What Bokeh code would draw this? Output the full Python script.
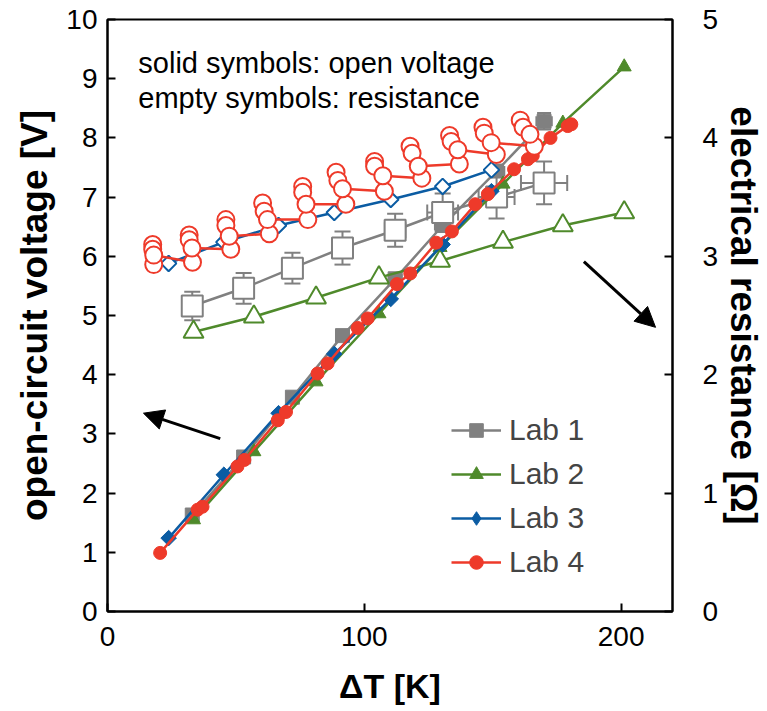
from bokeh.plotting import figure
from bokeh.models import (Range1d, LinearAxis, FixedTicker, Whisker, TeeHead, ColumnDataSource,
                          Legend, LegendItem, Label, Arrow, NormalHead)
from bokeh.embed import file_html
from bokeh.resources import INLINE
import math

# ---------------- data ----------------
lab1_dT = [33.0, 53.0, 72.0, 91.5, 112.0, 130.5, 151.5, 170.0]
lab1_V = [1.63, 2.61, 3.62, 4.66, 5.62, 6.52, 7.44, 8.28]
lab1_V_xerr = [0.5, 1.0, 1.5, 2.0, 2.5, 3.0, 3.0, 3.0]
lab1_V_yerr = [0.0, 0.0, 0.0, 0.0, 0.05, 0.08, 0.10, 0.14]
lab1_R = [2.58, 2.73, 2.90, 3.07, 3.22, 3.37, 3.50, 3.62]
lab1_R_xerr = [1.0, 1.5, 2.0, 3.0, 4.0, 6.0, 7.0, 9.0]
lab1_R_yerr = [0.12, 0.13, 0.13, 0.14, 0.14, 0.16, 0.18, 0.18]

lab2_dT = [33.5, 57.0, 81.2, 105.7, 129.5, 154.0, 177.3, 201.2]
lab2_V = [1.55, 2.70, 3.88, 5.03, 6.15, 7.22, 8.25, 9.20]
lab2_R = [2.36, 2.49, 2.65, 2.82, 2.96, 3.12, 3.26, 3.37]

lab3_dT = [23.8, 45.3, 66.6, 88.3, 110.3, 130.5, 149.5]
lab3_V = [1.24, 2.31, 3.35, 4.35, 5.28, 6.20, 7.10]
lab3_R = [2.94, 3.12, 3.26, 3.37, 3.48, 3.59, 3.73]

lab4_V_dT = [20.5, 35.1, 37.0, 50.6, 53.3, 66.3, 69.5, 81.8, 85.7, 97.4, 101.3, 112.7,
             117.9, 128.0, 134.1, 143.2, 148.1, 158.3, 163.7, 165.6, 172.5, 179.2, 180.6]
lab4_V = [0.99, 1.72, 1.77, 2.45, 2.56, 3.23, 3.37, 4.02, 4.19, 4.79, 4.95, 5.53,
          5.71, 6.23, 6.42, 6.88, 7.05, 7.47, 7.64, 7.70, 8.00, 8.20, 8.23]
lab4_R_dT = [18.0, 17.6, 17.6, 18.0, 33.1, 31.8, 31.8, 32.9, 48.0, 46.1, 46.1, 47.4,
             63.0, 60.4, 61.0, 62.3, 78.0, 76.0, 76.0, 77.3, 92.8, 89.0, 89.7, 91.5,
             107.8, 104.0, 104.0, 107.2, 122.4, 117.8, 118.6, 121.0, 137.0, 133.2, 133.8, 136.4,
             151.4, 146.2, 146.7, 149.4, 166.2, 160.7, 161.8, 164.5]
lab4_R = [2.93, 3.10, 3.06, 3.01, 2.95, 3.18, 3.14, 3.07, 3.06, 3.31, 3.26, 3.17,
          3.19, 3.45, 3.38, 3.31, 3.31, 3.59, 3.54, 3.44, 3.44, 3.71, 3.64, 3.57,
          3.55, 3.80, 3.76, 3.68, 3.66, 3.93, 3.87, 3.76, 3.78, 4.02, 3.97, 3.90,
          3.86, 4.09, 4.04, 3.96, 3.93, 4.15, 4.09, 4.03]

x_ticks = [0, 100, 200]
yV_ticks = [0, 1, 2, 3, 4, 5, 6, 7, 8, 9, 10]
yR_ticks = [0, 1, 2, 3, 4, 5]
labels = ["Lab 1", "Lab 2", "Lab 3", "Lab 4"]
note_lines = ["solid symbols: open voltage", "empty symbols: resistance"]

# ---------------- style ----------------
GRAY = "#808080"
GREEN = "#4f8a2b"
BLUE = "#0b5ca3"
RED = "#ee3a2a"
FONT = "Liberation Sans"
LW = 2.5

p = figure(output_backend="svg", toolbar_location=None,
           x_range=Range1d(0, 220), y_range=Range1d(0, 10),
           frame_width=565, frame_height=592,
           min_border_left=107, min_border_right=90, min_border_top=19, min_border_bottom=92)
p.extra_y_ranges = {"R": Range1d(0, 5)}
p.xgrid.visible = False
p.ygrid.visible = False
p.outline_line_color = "black"
p.outline_line_width = 2
p.background_fill_color = "white"
p.border_fill_color = "white"

def style_axis(ax, title_size):
    ax.axis_line_color = "black"
    ax.axis_line_width = 2
    ax.major_tick_in = 8
    ax.major_tick_out = 0
    ax.major_tick_line_width = 2
    ax.minor_tick_line_color = None
    ax.major_label_text_font = FONT
    ax.major_label_text_font_size = "28px"
    ax.major_label_text_color = "black"
    ax.axis_label_text_font = FONT
    ax.axis_label_text_font_style = "bold"
    ax.axis_label_text_font_size = title_size
    ax.axis_label_text_color = "black"

p.xaxis.ticker = FixedTicker(ticks=x_ticks)
p.xaxis.axis_label = "ΔT [K]"
p.yaxis.ticker = FixedTicker(ticks=yV_ticks)
p.yaxis.axis_label = "open-circuit voltage [V]"
style_axis(p.xaxis[0], "34px")
style_axis(p.yaxis[0], "37px")
p.xaxis.major_label_standoff = 15
p.xaxis.axis_label_standoff = 18
p.yaxis.major_label_standoff = 10
p.yaxis.axis_label_standoff = 8

rax = LinearAxis(y_range_name="R", ticker=FixedTicker(ticks=yR_ticks),
                 axis_label="electrical resistance [Ω]")
style_axis(rax, "37px")
rax.major_label_standoff = 30
rax.axis_label_standoff = 2
p.add_layout(rax, "right")

# ---------------- Lab 1 ----------------
src = ColumnDataSource(dict(x=lab1_dT, y=lab1_V,
                            lo=[a - b for a, b in zip(lab1_dT, lab1_V_xerr)],
                            up=[a + b for a, b in zip(lab1_dT, lab1_V_xerr)]))
p.add_layout(Whisker(source=src, base="y", lower="lo", upper="up", dimension="width",
                     line_color=GRAY, line_width=2,
                     lower_head=TeeHead(size=10, line_color=GRAY, line_width=2),
                     upper_head=TeeHead(size=10, line_color=GRAY, line_width=2)))
vy = [(a, b, e) for a, b, e in zip(lab1_dT, lab1_V, lab1_V_yerr) if e > 0]
src = ColumnDataSource(dict(x=[t[0] for t in vy], lo=[t[1] - t[2] for t in vy],
                            up=[t[1] + t[2] for t in vy]))
p.add_layout(Whisker(source=src, base="x", lower="lo", upper="up", dimension="height",
                     line_color=GRAY, line_width=2,
                     lower_head=TeeHead(size=14, line_color=GRAY, line_width=2),
                     upper_head=TeeHead(size=14, line_color=GRAY, line_width=2)))
l1 = p.line(lab1_dT, lab1_V, line_color=GRAY, line_width=LW)
s1 = p.scatter(lab1_dT, lab1_V, marker="square", size=14, fill_color=GRAY, line_color=GRAY)

src = ColumnDataSource(dict(x=lab1_dT, y=lab1_R,
                            lo=[a - b for a, b in zip(lab1_R, lab1_R_yerr)],
                            up=[a + b for a, b in zip(lab1_R, lab1_R_yerr)],
                            xlo=[a - b for a, b in zip(lab1_dT, lab1_R_xerr)],
                            xup=[a + b for a, b in zip(lab1_dT, lab1_R_xerr)]))
p.add_layout(Whisker(source=src, base="x", lower="lo", upper="up", dimension="height",
                     y_range_name="R", line_color=GRAY, line_width=2,
                     lower_head=TeeHead(size=16, line_color=GRAY, line_width=2),
                     upper_head=TeeHead(size=16, line_color=GRAY, line_width=2)))
p.add_layout(Whisker(source=src, base="y", lower="xlo", upper="xup", dimension="width",
                     y_range_name="R", line_color=GRAY, line_width=2,
                     lower_head=TeeHead(size=16, line_color=GRAY, line_width=2),
                     upper_head=TeeHead(size=16, line_color=GRAY, line_width=2)))
p.line(lab1_dT, lab1_R, y_range_name="R", line_color=GRAY, line_width=LW)
p.scatter(lab1_dT, lab1_R, y_range_name="R", marker="square", size=21,
          fill_color="white", line_color=GRAY, line_width=2)

# ---------------- Lab 2 ----------------
l2 = p.line(lab2_dT, lab2_V, line_color=GREEN, line_width=LW)
s2 = p.scatter(lab2_dT, lab2_V, marker="triangle", size=14, fill_color=GREEN, line_color=GREEN)
p.line(lab2_dT, lab2_R, y_range_name="R", line_color=GREEN, line_width=LW)
p.scatter(lab2_dT, lab2_R, y_range_name="R", marker="triangle", size=20,
          fill_color="white", line_color=GREEN, line_width=2)

# ---------------- Lab 3 ----------------
l3 = p.line(lab3_dT, lab3_V, line_color=BLUE, line_width=LW)
# diamond glyph (used by the legend), covered by the square-turned-45-degree markers
s3 = p.scatter(lab3_dT, lab3_V, marker="diamond", size=14, fill_color=BLUE, line_color=BLUE)
p.scatter(lab3_dT, lab3_V, marker="square", angle=math.pi / 4, size=11,
          fill_color=BLUE, line_color=BLUE)
p.line(lab3_dT, lab3_R, y_range_name="R", line_color=BLUE, line_width=LW)
p.scatter(lab3_dT, lab3_R, y_range_name="R", marker="square", angle=math.pi / 4, size=11,
          fill_color="white", line_color=BLUE, line_width=2)

# ---------------- Lab 4 ----------------
l4 = p.line(lab4_V_dT, lab4_V, line_color=RED, line_width=LW)
s4 = p.scatter(lab4_V_dT, lab4_V, marker="circle", size=13, fill_color=RED, line_color=RED)
p.line(lab4_R_dT, lab4_R, y_range_name="R", line_color=RED, line_width=LW)
p.scatter(lab4_R_dT, lab4_R, y_range_name="R", marker="circle", size=17,
          fill_color="white", line_color=RED, line_width=2)

# ---------------- legend ----------------
legend = Legend(items=[LegendItem(label=labels[0], renderers=[l1, s1]),
                       LegendItem(label=labels[1], renderers=[l2, s2]),
                       LegendItem(label=labels[2], renderers=[l3, s3]),
                       LegendItem(label=labels[3], renderers=[l4, s4])],
                location=(344, 32), orientation="vertical",
                label_text_font=FONT, label_text_font_size="30px",
                glyph_width=50, glyph_height=34, spacing=10, padding=0,
                label_standoff=8, background_fill_alpha=0, border_line_alpha=0)
p.add_layout(legend)

# ---------------- notes & arrows ----------------
p.add_layout(Label(x=12, y=9.27, text=note_lines[0], text_font=FONT, text_font_size="29px",
                   text_baseline="middle", text_color="black"))
p.add_layout(Label(x=12, y=8.68, text=note_lines[1], text_font=FONT, text_font_size="29px",
                   text_baseline="middle", text_color="black"))
p.add_layout(Arrow(x_start=43.9, y_start=2.92, x_end=14.0, y_end=3.35, line_width=3,
                   line_color="black",
                   end=NormalHead(size=20, fill_color="black", line_color="black")))
p.add_layout(Arrow(x_start=185.5, y_start=5.91, x_end=213.4, y_end=4.80, line_width=3,
                   line_color="black",
                   end=NormalHead(size=20, fill_color="black", line_color="black")))

open("out.html", "w").write(file_html(p, INLINE))
